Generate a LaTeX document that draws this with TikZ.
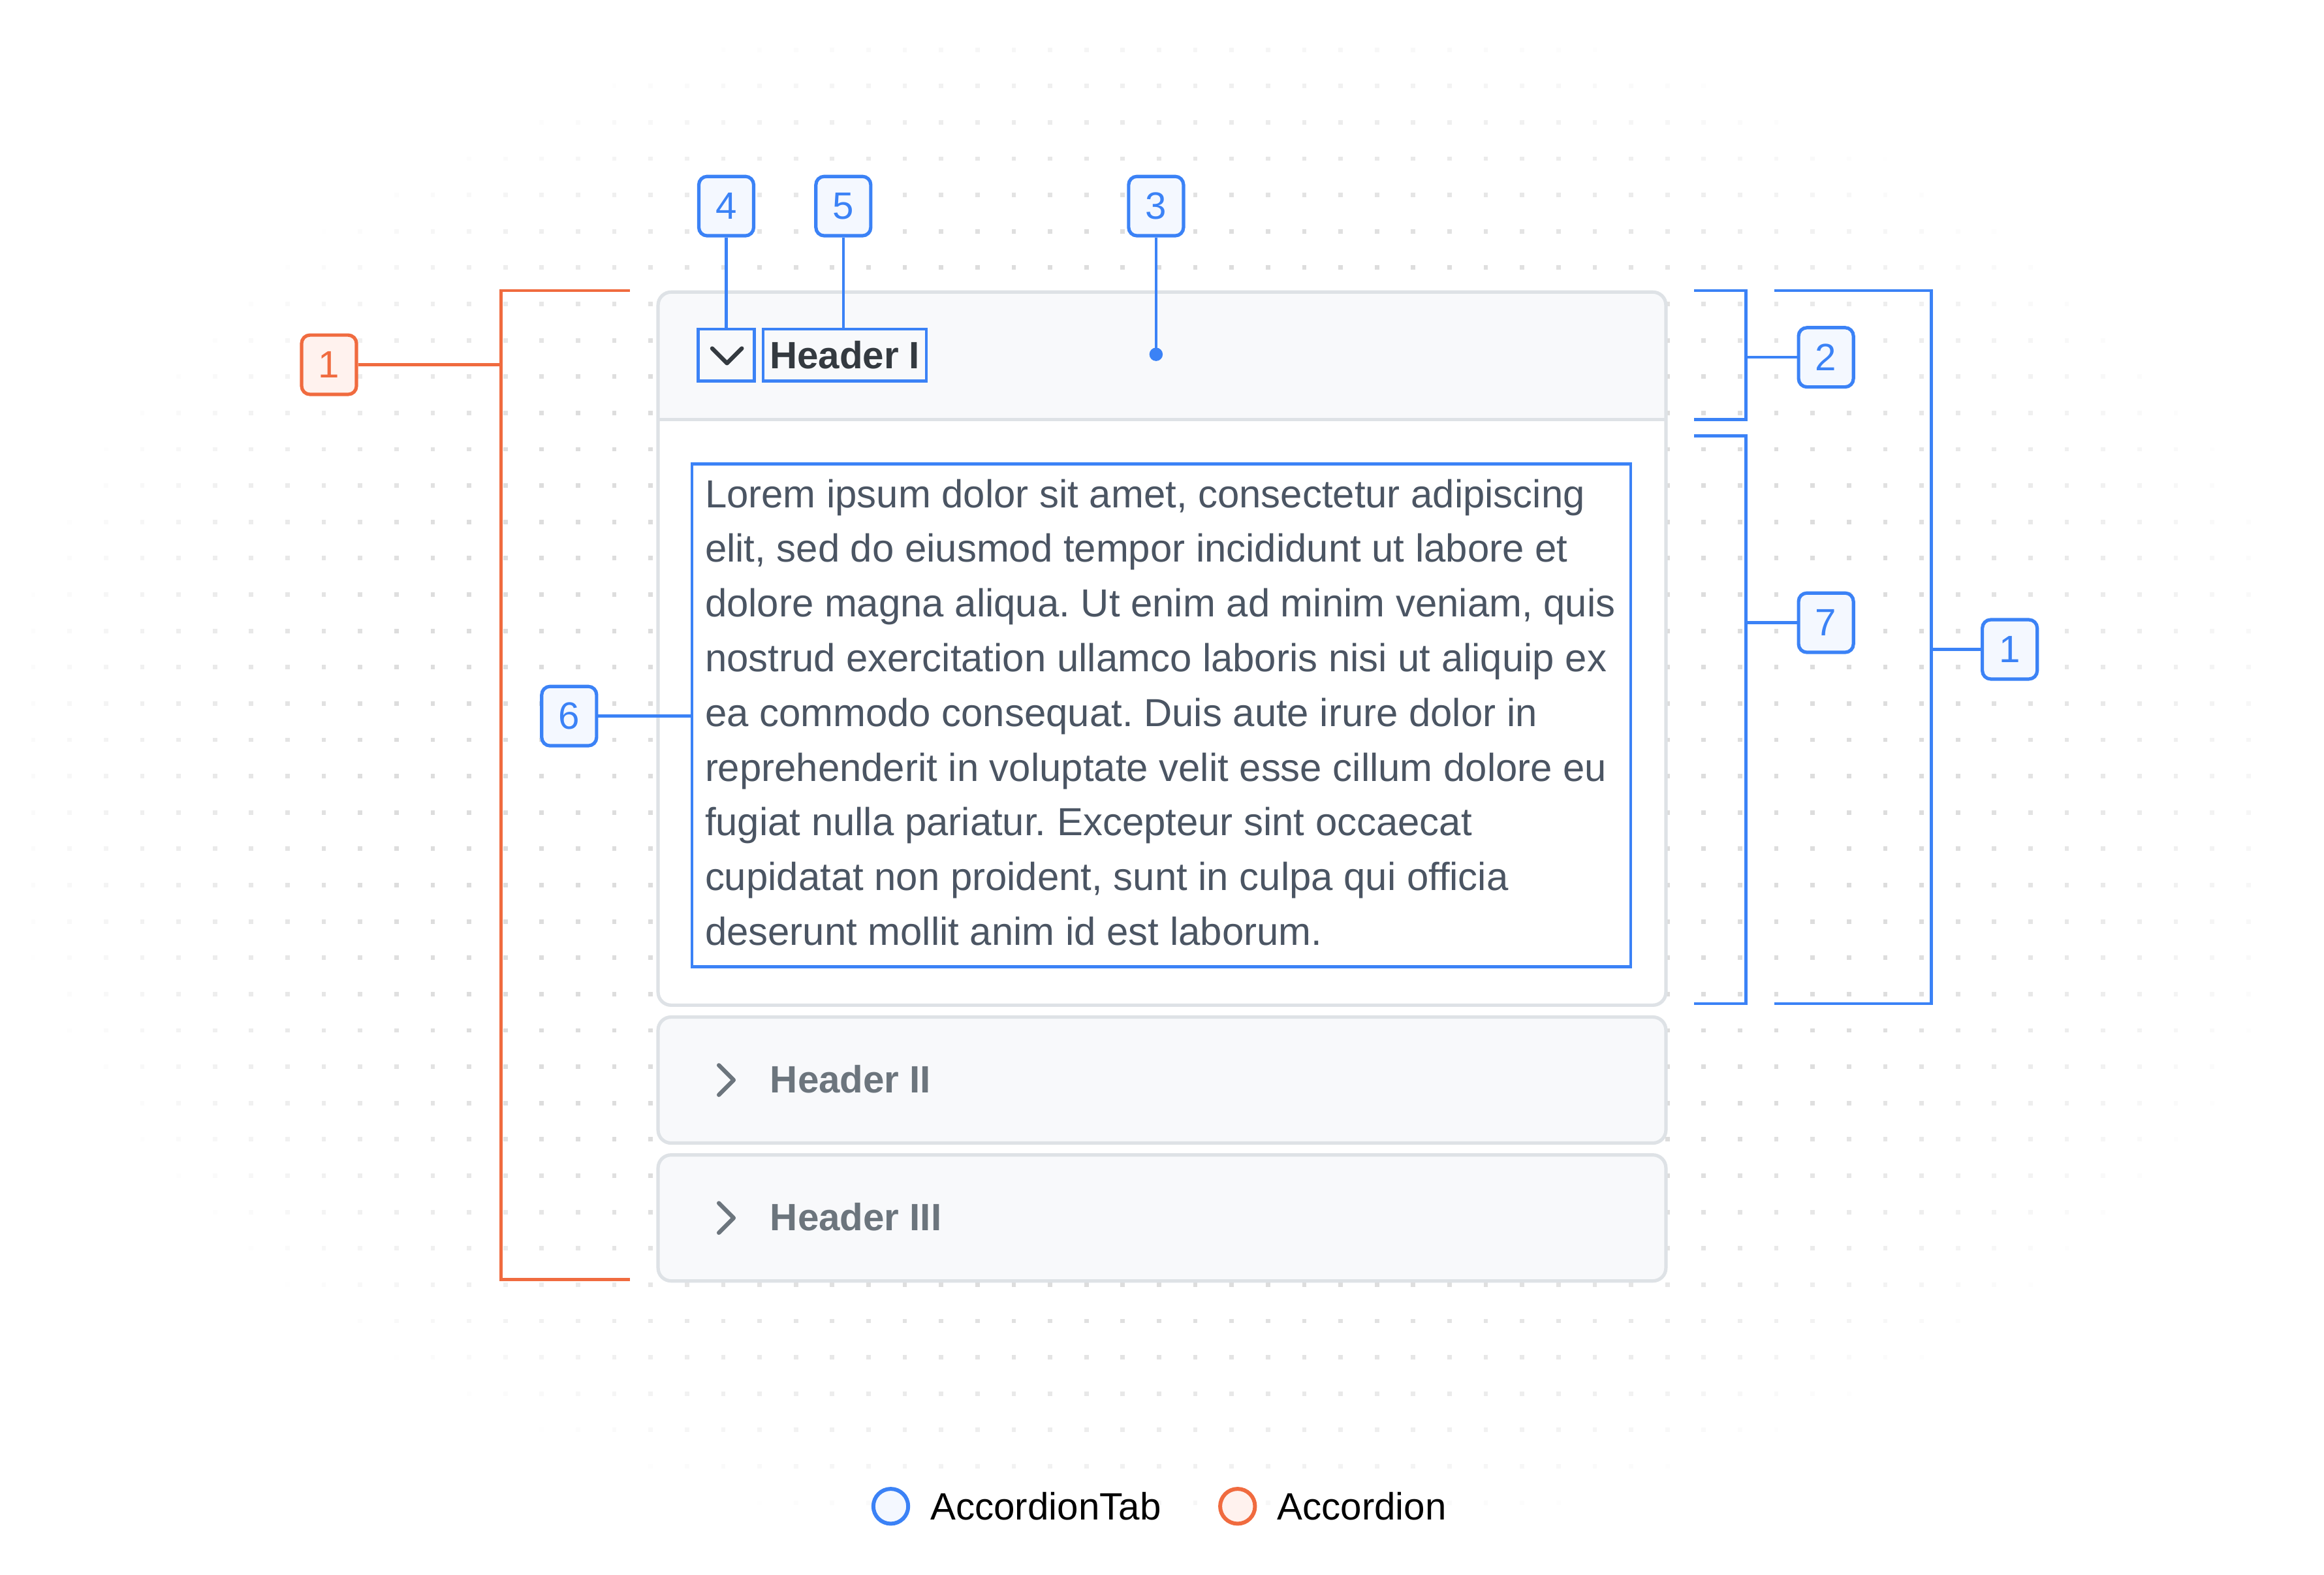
\documentclass[tikz,border=0pt]{standalone}
\usepackage{fontspec}
\setmainfont{Liberation Sans}
\usetikzlibrary{positioning}
\frenchspacing

\definecolor{tabblue}{HTML}{3B82F6}
\definecolor{accorange}{HTML}{F06B3F}
\definecolor{badgeblue}{HTML}{F4F8FF}
\definecolor{badgeorange}{HTML}{FFF2EE}
\definecolor{panelline}{HTML}{DEE2E6}
\definecolor{headfill}{HTML}{F8F9FB}
\definecolor{headdark}{HTML}{343A40}
\definecolor{headgray}{HTML}{6C757D}
\definecolor{bodytext}{HTML}{4B5563}
\definecolor{dotgray}{HTML}{DDDDDD}

\begin{document}
\begin{tikzpicture}[x=0.01cm, y=-0.01cm,
    tabbadge/.style={draw=tabblue, fill=badgeblue, text=tabblue, line width=0.65pt,
        rounded corners=1.6pt, minimum width=0.37cm, minimum height=0.40cm,
        inner sep=0pt, font=\fontsize{7.3}{8.8}\selectfont},
    accbadge/.style={tabbadge, draw=accorange, fill=badgeorange, text=accorange},
    tabline/.style={tabblue, line width=0.55pt},
    accline/.style={accorange, line width=0.55pt},
    panel/.style={draw=panelline, line width=0.65pt, rounded corners=2.5pt},
    markbox/.style={draw=tabblue, line width=0.55pt, inner sep=0pt},
    headtitle/.style={font=\bfseries\fontsize{7.3}{8.8}\selectfont},
    chevron/.style={line width=0.8pt, line cap=round, line join=round},
    legdot/.style={circle, minimum size=0.235cm, inner sep=0pt, line width=0.75pt},
    legtext/.style={inner sep=0pt, font=\fontsize{7.3}{8.8}\selectfont}]

%%%%%%%%%%%%%%%%%%%%%% BACKGROUND %%%%%%%%%%%%%%%%%%%%%%

\useasboundingbox (0,0) rectangle (1568,1062);
\fill[white] (0,0) rectangle (1568,1062);

% dot grid, fading out to the edges
\foreach \i in {-13,...,48}{
  \foreach \j in {-7,...,33}{
    \pgfmathsetmacro\dx{(341+24.5*\i-784)/790}
    \pgfmathsetmacro\dy{(205+24.5*\j-520)/530}
    \pgfmathsetmacro\op{max(0,min(1,1.8*(1-\dx*\dx-\dy*\dy)))}
    \ifdim\op pt>0.02pt
      \fill[dotgray, opacity=\op] (341+24.5*\i-1.5, 205+24.5*\j-1.5) rectangle ++(3,3);
    \fi
  }
}

%%%%%%%%%%%%%%%%%%%%%% TAB I (OPEN) %%%%%%%%%%%%%%%%%%%%%%

% Panel and header strip
\fill[white, rounded corners=2.5pt] (444,197) rectangle (1124,678);
\begin{scope}
    \clip (440,190) rectangle (1130,283);
    \fill[headfill, rounded corners=2.5pt] (444,197) rectangle (1124,678);
\end{scope}
\draw[panel] (444,197) rectangle (1124,678);
\draw[panelline, line width=0.65pt] (444,283) -- (1124,283);

% Header
\node[markbox, minimum width=0.38cm, minimum height=0.35cm] (chev) at (490,239.5) {};
    \draw[chevron, headdark] (480.5,235) -- (490.5,245) -- (500.5,235);
\node[markbox, headtitle, text=headdark, minimum width=1.10cm, minimum height=0.35cm] (head1) at (570,239.5) {Header I};
\coordinate (pin3) at (780,239);
    \fill[tabblue] (pin3) circle (4.5);

% Content
\node[markbox, minimum width=6.33cm, minimum height=3.39cm] (content) at (783.5,482.5) {};
\node[anchor=north west, inner sep=0pt, align=left, text=bodytext,
      font=\fontsize{7.5}{10.49}\selectfont] (lorem) at (475,322.5)
    {Lorem ipsum dolor sit amet, consectetur adipiscing\\
     elit, sed do eiusmod tempor incididunt ut labore et\\
     dolore magna aliqua. Ut enim ad minim veniam, quis\\
     nostrud exercitation ullamco laboris nisi ut aliquip ex\\
     ea commodo consequat. Duis aute irure dolor in\\
     reprehenderit in voluptate velit esse cillum dolore eu\\
     fugiat nulla pariatur. Excepteur sint occaecat\\
     cupidatat non proident, sunt in culpa qui officia\\
     deserunt mollit anim id est laborum.};

% Badges on top
\node[tabbadge] (b4) at (490,139) {4};
\node[tabbadge] (b5) at (569,139) {5};
\node[tabbadge] (b3) at (780,139) {3};
\draw[tabline] (b4) -- (chev);
\draw[tabline] (b5.south) -- (b5.south |- head1.north);
\draw[tabline] (b3) -- (pin3);

\node[tabbadge] (b6) at (384,483) {6};
\draw[tabline] (b6.east) -- (b6.east -| content.west);

%%%%%%%%%%%%%%%%%%%%%% TABS II AND III %%%%%%%%%%%%%%%%%%%%%%

\draw[panel, fill=headfill] (444,686) rectangle (1124,771);
    \draw[chevron, headgray] (485,718.5) -- (495,728.5) -- (485,738.5);
    \node[headtitle, text=headgray, anchor=west, inner sep=0pt] (head2) at (519,728) {Header II};

\draw[panel, fill=headfill] (444,779) rectangle (1124,864);
    \draw[chevron, headgray] (485,811.5) -- (495,821.5) -- (485,831.5);
    \node[headtitle, text=headgray, anchor=west, inner sep=0pt] (head3) at (519,821) {Header III};

%%%%%%%%%%%%%%%%%%%%%% BRACKETS %%%%%%%%%%%%%%%%%%%%%%

% Accordion (left)
\draw[accline] (425,196) -- (338,196) -- (338,863) -- (425,863);
\coordinate (accmid) at (338,246);
\node[accbadge] (a1) at (222,246) {1};
\draw[accline] (a1) -- (accmid);

% Header
\draw[tabline] (1143,196) -- (1178,196) -- (1178,283) -- (1143,283);
\coordinate (br2) at (1178,241);
\node[tabbadge] (b2) at (1232,241) {2};
\draw[tabline] (br2) -- (b2);

% Content
\draw[tabline] (1143,294) -- (1178,294) -- (1178,677) -- (1143,677);
\coordinate (br7) at (1178,420);
\node[tabbadge] (b7) at (1232,420) {7};
\draw[tabline] (br7) -- (b7);

% Whole tab
\draw[tabline] (1197,196) -- (1303,196) -- (1303,677) -- (1197,677);
\coordinate (br1) at (1303,438);
\node[tabbadge] (b1) at (1356,438) {1};
\draw[tabline] (br1) -- (b1);

%%%%%%%%%%%%%%%%%%%%%% LEGEND %%%%%%%%%%%%%%%%%%%%%%

\node[legdot, draw=tabblue, fill=badgeblue] (legtab) at (601,1016) {};
\node[legtext, right=0.13cm of legtab] (legtabtext) {AccordionTab};
\node[legdot, draw=accorange, fill=badgeorange] (legacc) at (835,1016) {};
\node[legtext, right=0.13cm of legacc] (legacctext) {Accordion};

\end{tikzpicture}
\end{document}
